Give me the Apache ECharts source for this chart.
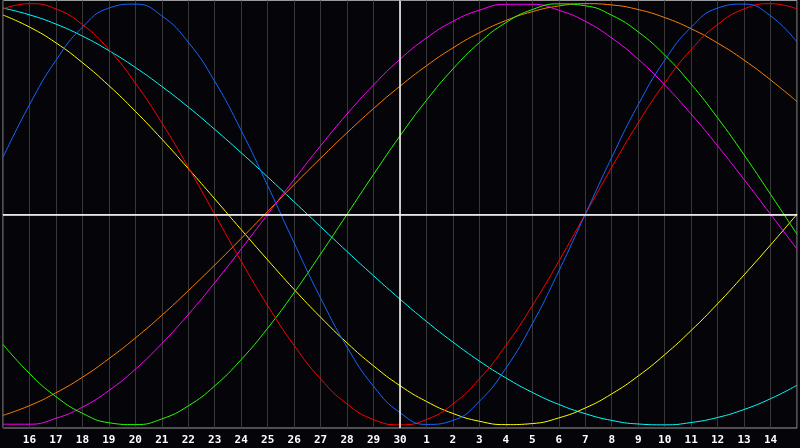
<!DOCTYPE html>
<html>
<head>
<meta charset="utf-8">
<script src="https://cdn.jsdelivr.net/npm/echarts@6/dist/echarts.min.js"></script>
<style>
html,body{margin:0;padding:0;background:#050408;}
#chart{width:800px;height:448px;}
</style>
</head>
<body>
<div id="chart"></div>
<script>
const days = ['15','16','17','18','19','20','21','22','23','24','25','26','27','28','29','30','1','2','3','4','5','6','7','8','9','10','11','12','13','14','15'];

const red = [97.5,100,97.5,90.1,78.2,62.3,43.4,22.3,0,-22.3,-43.4,-62.3,-78.2,-90.1,-97.5,-100,-97.5,-90.1,-78.2,-62.3,-43.4,-22.3,0,22.3,43.4,62.3,78.2,90.1,97.5,100,97.5];
const blue = [27.0,52.0,73.1,88.8,97.9,99.8,94.2,81.7,63.1,39.8,13.6,-13.6,-39.8,-63.1,-81.7,-94.2,-99.8,-97.9,-88.8,-73.1,-52.0,-27.0,0,27.0,52.0,73.1,88.8,97.9,99.8,94.2,81.7];
const green = [-61.8,-75.6,-86.6,-94.5,-99.0,-99.9,-97.2,-91.0,-81.5,-69.0,-54.1,-37.2,-18.9,0,18.9,37.2,54.1,69.0,81.5,91.0,97.2,99.9,99.0,94.5,86.6,75.6,61.8,45.8,28.2,9.5,-9.5];
const magenta = [-99.7,-99.7,-96.9,-91.6,-83.7,-73.6,-61.4,-47.6,-32.5,-16.5,0,16.5,32.5,47.6,61.4,73.6,83.7,91.6,96.9,99.7,99.7,96.9,91.6,83.7,73.6,61.4,47.6,32.5,16.5,0,-16.5];
const yellow = [94.6,88.9,81.4,72.0,61.1,48.9,35.7,21.7,7.3,-7.3,-21.7,-35.7,-48.9,-61.1,-72.0,-81.4,-88.9,-94.6,-98.3,-99.9,-99.4,-96.7,-92.0,-85.3,-76.8,-66.7,-55.2,-42.5,-28.8,-14.6,0];
const orange = [-95.5,-90.9,-84.8,-77.4,-68.6,-58.8,-48.0,-36.3,-24.1,-11.5,1.3,14.1,26.6,38.7,50.2,60.8,70.5,79.0,86.2,92.0,96.2,98.9,100.0,99.4,97.2,93.4,88.1,81.3,73.2,63.8,53.5];
const cyan = [97.9,94.7,90.3,84.6,77.7,69.7,60.7,50.9,40.3,29.2,17.7,5.9,-5.9,-17.7,-29.2,-40.3,-50.9,-60.7,-69.7,-77.7,-84.6,-90.3,-94.7,-97.9,-99.6,-100.0,-98.9,-96.5,-92.7,-87.6,-81.2];

const curves = [
  {name:'cyan', data:cyan, color:'#00ffff'},
  {name:'yellow', data:yellow, color:'#ffff00'},
  {name:'orange', data:orange, color:'#ff8000'},
  {name:'magenta', data:magenta, color:'#ff00ff'},
  {name:'green', data:green, color:'#22ff00'},
  {name:'red', data:red, color:'#ff0000'},
  {name:'blue', data:blue, color:'#1466ff'}
];

const chart = echarts.init(document.getElementById('chart'));
const series = [{
  type:'line', data:[], z:1, silent:true,
  markLine:{
    silent:true, symbol:'none', animation:false,
    label:{show:false},
    lineStyle:{color:'#ffffff', width:1.5, type:'solid'},
    data:[{xAxis:15},{yAxis:0}]
  }
}];
curves.forEach(c => series.push({
  name:c.name, type:'line', data:c.data, smooth:0.5, symbol:'none', z:3,
  lineStyle:{color:c.color, width:1}, itemStyle:{color:c.color}
}));

chart.setOption({
  backgroundColor:'#050408',
  animation:false,
  grid:{left:0.5, right:0.5, top:0.5, height:427.5, show:true, borderColor:'#9a9a9a', borderWidth:1, backgroundColor:'transparent'},
  xAxis:{
    type:'category', data:days, boundaryGap:false,
    axisLine:{show:true, lineStyle:{color:'#9a9a9a', width:1}},
    axisTick:{show:false},
    axisLabel:{
      interval:0, color:'#ffffff', fontFamily:'DejaVu Sans Mono', fontWeight:'bold', fontSize:11, margin:7,
      showMinLabel:false, showMaxLabel:false,
      formatter:(v, i) => (i === 0 || i === days.length - 1) ? '' : v
    },
    splitLine:{show:true, interval:0, lineStyle:{color:'#383838', width:1}}
  },
  yAxis:{
    type:'value', min:-101.5, max:101.5, show:false, splitLine:{show:false}
  },
  series:series
});
</script>
</body>
</html>
